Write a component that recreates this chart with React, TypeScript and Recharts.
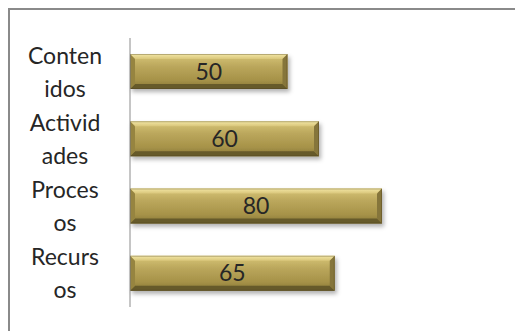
import { Bar, BarChart, LabelList, XAxis, YAxis } from "recharts";

// Horizontal bar chart with bevelled olive-gold bars, Excel style.

const categories = ["Contenidos", "Actividades", "Procesos", "Recursos"];
const tickLines = [
  ["Conten", "idos"],
  ["Activid", "ades"],
  ["Proces", "os"],
  ["Recurs", "os"],
];
const values = [50, 60, 80, 65];

const data = categories.map((name, i) => ({ name, value: values[i] }));

const FONT = "Lato, 'Noto Sans', sans-serif";
const BEVEL = 5;

function CategoryTick(props: any) {
  const { x, y, index } = props;
  const lines = tickLines[index] ?? [String(props.payload?.value)];
  return (
    <g>
      {lines.map((l, i) => (
        <text
          key={l + i}
          x={x - 57}
          y={y - 8 + i * 33}
          textAnchor="middle"
          fontFamily={FONT}
          fontSize={23}
          fill="#262626"
        >
          {l}
        </text>
      ))}
    </g>
  );
}

function BevelBar(props: any) {
  const { x, y, width, height } = props;
  if (!width || width <= 0) return null;
  const b = BEVEL;
  const r = x + width;
  const bt = y + height;
  return (
    <g filter="url(#barShadow)">
      <rect x={x} y={y} width={width} height={height} fill="url(#barBody)" />
      {/* top bevel */}
      <polygon
        points={`${x},${y} ${r},${y} ${r - b},${y + b} ${x + b},${y + b}`}
        fill="url(#barTop)"
      />
      {/* bottom bevel */}
      <polygon
        points={`${x},${bt} ${r},${bt} ${r - b},${bt - b} ${x + b},${bt - b}`}
        fill="#665a2b"
      />
      {/* left bevel */}
      <polygon
        points={`${x},${y} ${x + b},${y + b} ${x + b},${bt - b} ${x},${bt}`}
        fill="#96843f"
      />
      {/* right bevel */}
      <polygon
        points={`${r},${y} ${r - b},${y + b} ${r - b},${bt - b} ${r},${bt}`}
        fill="#85743a"
      />
      <rect
        x={x + 0.5}
        y={y + 0.5}
        width={width - 1}
        height={height - 1}
        fill="none"
        stroke="#4a401c"
        strokeOpacity={0.35}
      />
    </g>
  );
}

export default function App() {
  // fixed so the frame can run off the right/bottom edge without scrollbars
  return (
    <div
      style={{
        position: "fixed",
        left: 8,
        top: 8,
        width: 520,
        height: 330,
        border: "2px solid #8a8a8a",
        background: "#fff",
      }}
    >
      <BarChart
        width={505}
        height={311}
        data={data}
        layout="vertical"
        margin={{ top: 28, right: 70, bottom: 14, left: 0 }}
      >
        <defs>
          <linearGradient id="barBody" x1="0" y1="0" x2="0" y2="1">
            <stop offset="0%" stopColor="#d8c678" />
            <stop offset="35%" stopColor="#bba75c" />
            <stop offset="75%" stopColor="#a69248" />
            <stop offset="100%" stopColor="#857536" />
          </linearGradient>
          <linearGradient id="barTop" x1="0" y1="0" x2="0" y2="1">
            <stop offset="0%" stopColor="#f3e7a6" />
            <stop offset="100%" stopColor="#d9c67a" />
          </linearGradient>
          <filter id="barShadow" x="-5%" y="-20%" width="115%" height="160%">
            <feDropShadow
              dx="2"
              dy="3"
              stdDeviation="2"
              floodColor="#000"
              floodOpacity="0.3"
            />
          </filter>
        </defs>
        <XAxis type="number" domain={[0, 100]} hide />
        <YAxis
          type="category"
          dataKey="name"
          width={120}
          axisLine={{ stroke: "#8c8c8c" }}
          tickLine={false}
          tick={<CategoryTick />}
          interval={0}
        />
        <Bar
          dataKey="value"
          barSize={35}
          shape={<BevelBar />}
          isAnimationActive={false}
        >
          <LabelList
            dataKey="value"
            position="center"
            fill="#262626"
            fontSize={23}
            fontFamily={FONT}
          />
        </Bar>
      </BarChart>
    </div>
  );
}
